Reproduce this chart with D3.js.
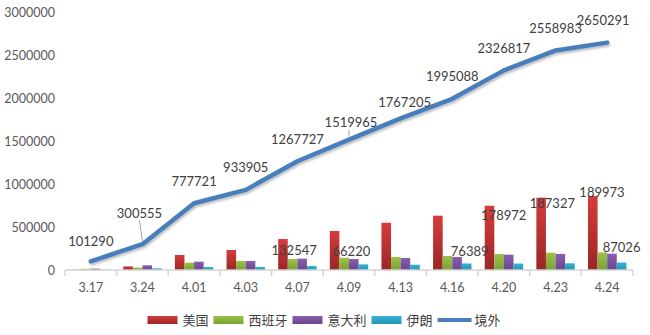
<!DOCTYPE html>
<html>
<head>
<meta charset="utf-8">
<script src="https://cdn.jsdelivr.net/npm/d3@7"></script>
<style>
  html, body { margin: 0; padding: 0; background: #fff; }
  svg { display: block; }
</style>
</head>
<body>
<svg id="chart" width="650" height="335"></svg>
<script>
// Dates on the x axis
const categories = ['3.17','3.24','4.01','4.03','4.07','4.09','4.13','4.16','4.20','4.23','4.24'];

// Confirmed cases per country (bars)
const usa   = [3000, 42000, 175000, 233000, 361000, 455000, 551000, 633000, 749000, 843000, 862000];
const spain = [14000, 28000, 85000, 105000, 128000, 143000, 152000, 163000, 186000, 202000, 205000];
const italy = [16000, 55000, 97000, 105000, 132547, 128000, 140000, 152000, 178972, 187327, 189973];
const iran  = [3000, 20000, 35000, 35000, 47000, 66220, 62000, 76389, 75000, 78000, 87026];

// Total confirmed outside China (line)
const overseas = [101290, 300555, 777721, 933905, 1267727, 1519965, 1767205, 1995088, 2326817, 2558983, 2650291];

const seriesNames = ['美国', '西班牙', '意大利', '伊朗'];
const lineName = '境外';
const yTicks = [0, 500000, 1000000, 1500000, 2000000, 2500000, 3000000];

// Bars whose values are printed
const barLabels = [
  { cat: '4.07', series: '意大利' },
  { cat: '4.20', series: '意大利' },
  { cat: '4.23', series: '意大利' },
  { cat: '4.24', series: '意大利' },
  { cat: '4.09', series: '伊朗' },
  { cat: '4.16', series: '伊朗' },
  { cat: '4.24', series: '伊朗' }
];

// ---- layout / styling ----
const W = 650, H = 335;
const plot = { left: 65, right: 633, top: 12.6, bottom: 270 };
const colors = {
  '美国':   ['#d63c3c', '#9a2626'],
  '西班牙': ['#9cc24a', '#7aa232'],
  '意大利': ['#8a5fb0', '#6a4590'],
  '伊朗':   ['#35b4d4', '#2495b5']
};
const lineColor = '#4a7ebd';
const labelFont = 'Lato, "Open Sans", sans-serif';
const cjkFont = '"Noto Sans CJK SC", sans-serif';

// label nudges (dx, dy from the anchor)
const barLabelNudge = {
  '4.07|意大利': [-8, -8], '4.20|意大利': [-5, -39], '4.23|意大利': [-8, -50], '4.24|意大利': [-10, -61],
  '4.09|伊朗': [-12, -13], '4.16|伊朗': [3, -12], '4.24|伊朗': [0, -15]
};
const lineLabelNudge = {
  '3.17': [0, -20], '3.24': [-3, -31], '4.09': [2, -17], '4.13': [4, -16], '4.24': [-4, -22]
};
const leaderLines = { '3.24': [-3, -24, 0, -3], '4.09': [0, -10, 0, -3] };

const svg = d3.select('#chart');
svg.append('rect').attr('width', W).attr('height', H).attr('fill', '#fff');

const x0 = d3.scaleBand().domain(categories).range([plot.left, plot.right]).paddingInner(0).paddingOuter(0);
const x1 = d3.scaleBand().domain(seriesNames).range([0, x0.bandwidth()]).paddingInner(0).paddingOuter(0.69);
const y = d3.scaleLinear().domain([0, 3000000]).range([plot.bottom, plot.top]);

const defs = svg.append('defs');
seriesNames.forEach((s, i) => {
  const g = defs.append('linearGradient').attr('id', 'grad' + i)
    .attr('x1', 0).attr('y1', 0).attr('x2', 0).attr('y2', 1);
  g.append('stop').attr('offset', '0%').attr('stop-color', colors[s][0]);
  g.append('stop').attr('offset', '100%').attr('stop-color', colors[s][1]);
});
const shadow = defs.append('filter').attr('id', 'lineShadow')
  .attr('x', '-10%').attr('y', '-10%').attr('width', '120%').attr('height', '130%');
shadow.append('feDropShadow').attr('dx', 1.2).attr('dy', 2).attr('stdDeviation', 1.2)
  .attr('flood-color', '#000').attr('flood-opacity', 0.25);

const seriesData = { '美国': usa, '西班牙': spain, '意大利': italy, '伊朗': iran };

// y tick labels (no axis line, no gridlines)
const yAxis = d3.axisLeft(y).tickValues(yTicks).tickSize(0).tickPadding(10).tickFormat(d3.format('d'));
const yg = svg.append('g').attr('transform', `translate(${plot.left},0)`).call(yAxis);
yg.select('.domain').remove();
yg.selectAll('text').attr('font-family', labelFont).attr('font-size', 12.5).attr('fill', '#595959');

// bars
const groups = svg.append('g').selectAll('g').data(categories).join('g')
  .attr('transform', d => `translate(${x0(d)},0)`);
seriesNames.forEach((s, si) => {
  groups.append('rect')
    .attr('x', x1(s))
    .attr('width', x1.bandwidth())
    .attr('y', (d, i) => y(seriesData[s][i]))
    .attr('height', (d, i) => y(0) - y(seriesData[s][i]))
    .attr('fill', `url(#grad${si})`);
});

// x axis with tick marks between categories
const xAxisG = svg.append('g').attr('transform', `translate(0,${plot.bottom})`);
const bounds = categories.map(c => x0(c)).concat([plot.right]);
xAxisG.append('line').attr('x1', plot.left).attr('x2', plot.right).attr('y1', 0).attr('y2', 0)
  .attr('stroke', '#d4d4d4').attr('stroke-width', 1.5);
xAxisG.selectAll('line.tick').data(bounds).join('line').attr('class', 'tick')
  .attr('x1', d => d).attr('x2', d => d).attr('y1', 0).attr('y2', 6)
  .attr('stroke', '#d4d4d4').attr('stroke-width', 1.5);
xAxisG.selectAll('text').data(categories).join('text')
  .attr('x', d => x0(d) + x0.bandwidth() / 2).attr('y', 18)
  .attr('dy', '0.35em').attr('text-anchor', 'middle')
  .attr('font-family', labelFont).attr('font-size', 12.5).attr('fill', '#595959')
  .text(d => d);

// overseas total line
const cx = c => x0(c) + x0.bandwidth() / 2;
const line = d3.line().x((d, i) => cx(categories[i])).y(d => y(d));
svg.append('path').datum(overseas).attr('d', line)
  .attr('fill', 'none').attr('stroke', lineColor).attr('stroke-width', 4.5)
  .attr('stroke-linejoin', 'round').attr('stroke-linecap', 'round')
  .attr('filter', 'url(#lineShadow)');

// leader lines
Object.entries(leaderLines).forEach(([c, [ax, ay, bx, by]]) => {
  const i = categories.indexOf(c);
  const px = cx(c), py = y(overseas[i]);
  svg.append('line').attr('x1', px + ax).attr('y1', py + ay).attr('x2', px + bx).attr('y2', py + by)
    .attr('stroke', '#a6a6a6').attr('stroke-width', 1);
});

// line value labels
svg.append('g').selectAll('text').data(overseas).join('text')
  .attr('x', (d, i) => cx(categories[i]) + (lineLabelNudge[categories[i]] || [0, -22])[0])
  .attr('y', (d, i) => y(d) + (lineLabelNudge[categories[i]] || [0, -22])[1])
  .attr('dy', '0.35em').attr('text-anchor', 'middle')
  .attr('font-family', labelFont).attr('font-size', 13).attr('fill', '#404040')
  .text(d => d);

// bar value labels
svg.append('g').selectAll('text').data(barLabels).join('text')
  .each(function (d) {
    const i = categories.indexOf(d.cat);
    const v = seriesData[d.series][i];
    const n = barLabelNudge[d.cat + '|' + d.series] || [0, -12];
    d3.select(this)
      .attr('x', x0(d.cat) + x1(d.series) + x1.bandwidth() / 2 + n[0])
      .attr('y', y(v) + n[1])
      .text(v);
  })
  .attr('dy', '0.35em').attr('text-anchor', 'middle')
  .attr('font-family', labelFont).attr('font-size', 13).attr('fill', '#404040');

// legend
const legend = svg.append('g');
let lx = 0;
const ly = 320;
seriesNames.forEach((s, si) => {
  legend.append('rect').attr('x', lx).attr('y', ly - 4).attr('width', 30).attr('height', 8)
    .attr('fill', `url(#grad${si})`);
  const t = legend.append('text').attr('x', lx + 35).attr('y', ly).attr('dy', '0.35em')
    .attr('font-family', cjkFont).attr('font-size', 13).attr('fill', '#404040').text(s);
  lx += 35 + t.node().getComputedTextLength() + 5;
});
legend.append('line').attr('x1', lx).attr('x2', lx + 34).attr('y1', ly).attr('y2', ly)
  .attr('stroke', lineColor).attr('stroke-width', 4);
const lt = legend.append('text').attr('x', lx + 37).attr('y', ly).attr('dy', '0.35em')
  .attr('font-family', cjkFont).attr('font-size', 13).attr('fill', '#404040').text(lineName);
const legendW = lx + 37 + lt.node().getComputedTextLength();
legend.attr('transform', `translate(${(143 + 505) / 2 - legendW / 2},0)`);
</script>
</body>
</html>
